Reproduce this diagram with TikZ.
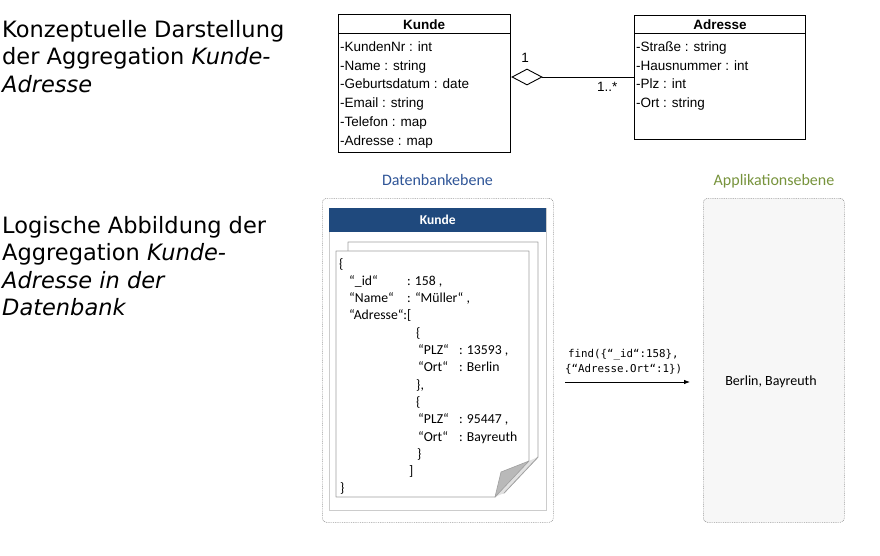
\documentclass[tikz,border=0pt]{standalone}
\usepackage{fontspec}
\setmainfont{Liberation Sans}
\newfontfamily\verd{DejaVu Sans}[ItalicFont={DejaVu Sans Oblique}]
\newfontfamily\calib{Carlito}
\newfontfamily\consol{DejaVu Sans Mono}
\usetikzlibrary{shapes.geometric,arrows.meta}
\definecolor{kblue}{RGB}{31,73,125}
\definecolor{dbtitle}{RGB}{47,85,151}
\definecolor{apptitle}{RGB}{119,147,60}
\definecolor{pagegray}{RGB}{160,160,160}
\definecolor{foldgray}{RGB}{185,185,185}
\definecolor{foldlight}{RGB}{225,225,225}
\begin{document}
\begin{tikzpicture}[x=1pt,y=-1pt,
 lefttxt/.style={anchor=base west,inner sep=0,font=\verd\fontsize{22.5}{27}\selectfont},
 umlbox/.style={draw,line width=0.9pt,anchor=north west,inner sep=0},
 umlattr/.style={anchor=base west,inner sep=0,font=\fontsize{13.5}{16}\selectfont},
 umltitle/.style={anchor=base,inner sep=0,font=\bfseries\fontsize{13.5}{16}\selectfont},
 json/.style={anchor=base west,inner sep=0,font=\calib\fontsize{13.7}{16}\selectfont},
 layerbox/.style={draw=gray!80,line width=0.6pt,dash pattern=on 0.9pt off 0.9pt,rounded corners=4pt,anchor=north west,inner sep=0},
 layertitle/.style={anchor=base,inner sep=0,font=\calib\fontsize{16}{19}\selectfont},
 codetxt/.style={anchor=base west,inner sep=0,font=\consol\fontsize{10.8}{13}\selectfont},
 pageshape/.style={draw=pagegray,fill=white,line width=0.9pt,line join=round}]
\useasboundingbox (0,0) rectangle (880,555);

% left descriptions
\node[lefttxt] (l1) at (2,37) {Konzeptuelle Darstellung};
\node[lefttxt] (l2) at (2,64.5) {der Aggregation \textit{Kunde-}};
\node[lefttxt] (l3) at (2,92) {\textit{Adresse}};
\node[lefttxt] (m1) at (2,233) {Logische Abbildung der};
\node[lefttxt] (m2) at (2,260.5) {Aggregation \textit{Kunde-}};
\node[lefttxt] (m3) at (2,288) {\textit{Adresse in der}};
\node[lefttxt] (m4) at (2,315.5) {\textit{Datenbank}};

% UML class Kunde
\node[umlbox,minimum width=172pt,minimum height=138pt] (kunde) at (338,14) {};
\draw[line width=0.9pt] ([yshift=-19pt]kunde.north west) -- ([yshift=-19pt]kunde.north east);
\node[umltitle] (kt) at (424,29.5) {Kunde};
\node[umlattr] (ka1) at (340,51.5) {-KundenNr : int};
\node[umlattr] (ka2) at (340,70.2) {-Name : string};
\node[umlattr] (ka3) at (340,88.9) {-Geburtsdatum : date};
\node[umlattr] (ka4) at (340,107.6) {-Email : string};
\node[umlattr] (ka5) at (340,126.3) {-Telefon : map};
\node[umlattr] (ka6) at (340,145) {-Adresse : map};

% UML class Adresse
\node[umlbox,minimum width=171pt,minimum height=124pt] (adresse) at (634,15) {};
\draw[line width=0.9pt] ([yshift=-18pt]adresse.north west) -- ([yshift=-18pt]adresse.north east);
\node[umltitle] (at) at (720,29.5) {Adresse};
\node[umlattr] (aa1) at (636,51.5) {-Straße : string};
\node[umlattr] (aa2) at (636,70.2) {-Hausnummer : int};
\node[umlattr] (aa3) at (636,88.9) {-Plz : int};
\node[umlattr] (aa4) at (636,107.6) {-Ort : string};

% aggregation
\node[draw,diamond,minimum width=30pt,minimum height=16pt,inner sep=0,line width=0.9pt,fill=white] (agg) at (527,77) {};
\draw[line width=0.9pt] (agg.east) -- (agg.east -| adresse.west);
\node[umlattr,anchor=base] (m1lab) at (525,62.5) {1};
\node[umlattr] (m2lab) at (597,91) {1..*};

% layer titles
\node[layertitle,text=dbtitle] (dbt) at (437.5,185.5) {Datenbankebene};
\node[layertitle,text=apptitle] (appt) at (774,185.5) {Applikationsebene};

% containers
\node[layerbox,fill=white,minimum width=231pt,minimum height=324pt] (db) at (322,198) {};
\node[layerbox,fill=gray!6,minimum width=141pt,minimum height=324pt] (app) at (703,198) {};

% collection box
\node[draw=gray!40,line width=1.3pt,anchor=north west,minimum width=217pt,minimum height=302pt,inner sep=0] (coll) at (329,208) {};
\node[fill=kblue,anchor=north west,minimum width=217pt,minimum height=24pt,inner sep=0,text=white,font=\calib\bfseries\fontsize{13.5}{16}\selectfont] (bar) at (329,208) {Kunde};

% pages
\draw[pageshape] (348,242) -- (538,242) -- (538,457) -- (504,493) -- (348,493) -- cycle;
\draw[pageshape] (336,251) -- (529,251) -- (529,461) -- (495,497) -- (336,497) -- cycle;
\fill[foldlight] (529,461) -- (538,457) -- (504,493) -- (495,497) -- cycle;
\draw[pagegray,line width=0.6pt] (538,457) -- (504,493);
\draw[pagegray,fill=foldgray,line width=0.6pt,line join=round] (495,497) -- (501,472) -- (529,461) -- cycle;

% JSON document
\node[json] (j1) at (339,268) {\{};
\node[json] (j2) at (349,285.3) {\makebox[58pt][l]{“\_id“}: 158 ,};
\node[json] (j3) at (349,302.6) {\makebox[58pt][l]{“Name“}: “Müller“ ,};
\node[json] (j4) at (349,319.9) {“Adresse“:[};
\node[json] (j5) at (416,337.2) {\{};
\node[json] (j6) at (418,354.5) {\makebox[41pt][l]{“PLZ“}: 13593 ,};
\node[json] (j7) at (418,371.8) {\makebox[41pt][l]{“Ort“}: Berlin};
\node[json] (j8) at (416,389.1) {\},};
\node[json] (j9) at (416,406.4) {\{};
\node[json] (j10) at (418,423.7) {\makebox[41pt][l]{“PLZ“}: 95447 ,};
\node[json] (j11) at (418,441) {\makebox[41pt][l]{“Ort“}: Bayreuth};
\node[json] (j12) at (417,458.3) {\}};
\node[json] (j13) at (409,475.6) {]};
\node[json] (j14) at (340,492.9) {\}};

% query arrow
\coordinate (qs) at (565,382);
\coordinate (qe) at (690,382);
\draw[line width=0.8pt,-{Latex[length=6pt,width=4.5pt]}] (qs) -- (qe);
\node[codetxt] (q1) at (568,357) {find(\{“\_id“:158\},};
\node[codetxt] (q2) at (565,372) {\{“Adresse.Ort“:1\})};

% result
\node[inner sep=0,font=\calib\fontsize{14}{17}\selectfont] (res) at (771,382) {Berlin, Bayreuth};
\end{tikzpicture}
\end{document}
